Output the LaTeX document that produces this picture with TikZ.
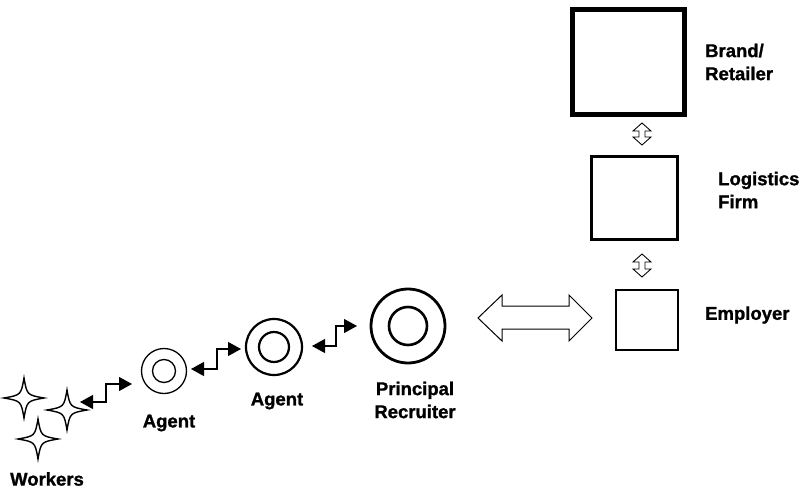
\documentclass[tikz,border=0pt]{standalone}
\usepackage{fontspec}
\setmainfont{Liberation Sans}[BoldFeatures={FakeBold=1.2}]
\usetikzlibrary{arrows.meta}
\begin{document}
\begin{tikzpicture}[x=1pt,y=-1pt,
  lbl/.style={font=\bfseries\fontsize{18.5}{23}\selectfont, align=left, inner sep=0pt},
  clbl/.style={font=\bfseries\fontsize{18.5}{23}\selectfont, align=center, inner sep=0pt},
  starline/.style={draw, line width=1.4pt, line join=miter},
  ring/.style={circle, draw, inner sep=0pt},
  zig/.style={line width=1.2pt, {Triangle[length=13pt,width=14pt]}-{Triangle[length=13pt,width=14pt]}},
  hollow/.style={draw, line width=1pt, line join=miter},
  ]
\useasboundingbox (0,0) rectangle (804,490);
% workers
\coordinate (w1) at (24,398);
\coordinate (w2) at (67,410);
\coordinate (w3) at (38,439);
\foreach \w in {w1,w2,w3}{
  \draw[starline] ([shift={(0,-20)}]\w) .. controls ([shift={(3,-3)}]\w) .. ([shift={(20,0)}]\w)
    .. controls ([shift={(3,3)}]\w) .. ([shift={(0,20)}]\w)
    .. controls ([shift={(-3,3)}]\w) .. ([shift={(-20,0)}]\w)
    .. controls ([shift={(-3,-3)}]\w) .. cycle;
}
\node[clbl] (wl) at (47,479) {Workers};
% agent 1
\node[ring, minimum size=45pt, line width=1.3pt] (a1) at (164,371) {};
\node[ring, minimum size=23pt, line width=1.3pt] (a1i) at (a1) {};
\node[clbl] (a1l) at (169,423) {Agent};
% agent 2
\node[ring, minimum size=56pt, line width=2.2pt] (a2) at (274,347) {};
\node[ring, minimum size=30pt, line width=2.2pt] (a2i) at (a2) {};
\node[clbl] (a2l) at (277,401) {Agent};
% principal recruiter
\node[ring, minimum size=74pt, line width=2.8pt] (pr) at (408,326) {};
\node[ring, minimum size=38pt, line width=2.6pt] (pri) at (pr) {};
\node[clbl] (prl) at (415,400) {Principal\\Recruiter};
% boxes
\node[draw, line width=5pt, minimum width=112pt, minimum height=105pt, inner sep=0pt] (br) at (628.5,62) {};
\node[lbl, anchor=west] (brl) at (705,62) {Brand/\\Retailer};
\node[draw, line width=3pt, minimum width=86pt, minimum height=83pt, inner sep=0pt] (lf) at (634.5,198) {};
\node[lbl, anchor=west] (lfl) at (718,190) {Logistics\\Firm};
\node[draw, line width=1.3pt, minimum width=62pt, minimum height=60pt, inner sep=0pt] (em) at (647,320) {};
\node[lbl, anchor=west] (eml) at (705,315) {Employer};
% zigzag connectors
\coordinate (z1a) at (80,402);
\coordinate (z1b) at (132,384);
\draw[zig] (z1a) -- (106,402) -- (106,384) -- (z1b);
\coordinate (z2a) at (191,369);
\coordinate (z2b) at (241,349);
\draw[zig] (z2a) -- (217,369) -- (217,349) -- (z2b);
\coordinate (z3a) at (312,346);
\coordinate (z3b) at (357,326);
\draw[zig] (z3a) -- (336,346) -- (336,326) -- (z3b);
% big double arrow
\draw[hollow] (478,318) -- (502,295) -- (502,306) -- (569,306) -- (569,295) -- (592,318)
  -- (569,341) -- (569,329) -- (502,329) -- (502,341) -- cycle;
% small vertical double arrows
\draw[hollow, line width=0.9pt] (642,123) -- (651,131) -- (645,131) -- (645,137) -- (651,137) -- (642,145)
  -- (633,137) -- (639,137) -- (639,131) -- (633,131) -- cycle;
\draw[hollow, line width=0.9pt] (642,254) -- (651,262) -- (645,262) -- (645,269) -- (651,269) -- (642,277)
  -- (633,269) -- (639,269) -- (639,262) -- (633,262) -- cycle;
\end{tikzpicture}
\end{document}
